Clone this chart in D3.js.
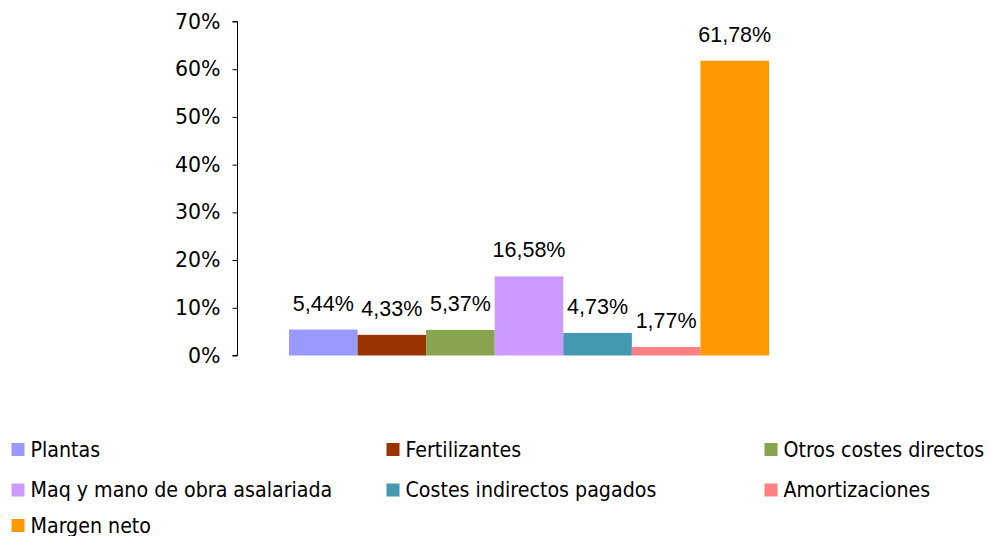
<!DOCTYPE html>
<html>
<head>
<meta charset="utf-8">
<script src="https://cdn.jsdelivr.net/npm/d3@7"></script>
<style>
  body { margin: 0; background: #fff; }
  svg { display: block; }
</style>
</head>
<body>
<div id="chart"></div>
<script>
const categories = ["Plantas", "Fertilizantes", "Otros costes directos", "Maq y mano de obra asalariada",
                    "Costes indirectos pagados", "Amortizaciones", "Margen neto"]
const values = [5.44, 4.33, 5.37, 16.58, 4.73, 1.77, 61.78]
const colors = ["#9999ff", "#993300", "#88a44f", "#cc99ff", "#4498b0", "#ff8080", "#ff9900"]
const yTicks = [0, 10, 20, 30, 40, 50, 60, 70]

const width = 990, height = 536
const svg = d3.select("#chart").append("svg")
    .attr("width", width).attr("height", height)

const plot = {left: 237.5, right: 821, top: 21.5, bottom: 355.5}

const y = d3.scaleLinear().domain([0, 70]).range([plot.bottom, plot.top])
const x = d3.scaleBand().domain(categories)
    .range([289, 769]).padding(0)

// y axis
const yAxis = d3.axisLeft(y).tickValues(yTicks).tickSize(5).tickPadding(12)
    .tickFormat(d => d + "%")
const gy = svg.append("g").attr("transform", `translate(${plot.left},0)`).call(yAxis)
gy.select(".domain").attr("stroke", "#000").attr("d", `M-5,${plot.top}H0V${plot.bottom}H-5`)
gy.selectAll(".tick line").attr("stroke", "#000")
gy.selectAll(".tick text")
    .attr("font-family", "DejaVu Sans, Verdana, sans-serif")
    .attr("font-size", 20.5).attr("fill", "#000")

// bars
svg.selectAll(".bar").data(categories).enter().append("rect")
    .attr("class", "bar")
    .attr("x", d => x(d))
    .attr("width", x.bandwidth())
    .attr("y", (d, i) => y(values[i]))
    .attr("height", (d, i) => y(0) - y(values[i]))
    .attr("fill", (d, i) => colors[i])

// value labels
svg.selectAll(".lbl").data(categories).enter().append("text")
    .attr("class", "lbl")
    .attr("x", d => x(d) + x.bandwidth() / 2)
    .attr("y", (d, i) => y(values[i]) - 19)
    .attr("text-anchor", "middle")
    .attr("font-family", "Liberation Sans, Arial, sans-serif")
    .attr("font-size", 21.5)
    .text((d, i) => values[i].toFixed(2).replace(".", ",") + "%")

// legend
const legCols = [11.5, 386.5, 764.5]
const legRows = [449.5, 490, 525.5]
const leg = svg.selectAll(".leg").data(categories).enter().append("g")
    .attr("class", "leg")
    .attr("transform", (d, i) => `translate(${legCols[i % 3]},${legRows[Math.floor(i / 3)]})`)
leg.append("rect").attr("x", 0).attr("y", -6.5).attr("width", 13).attr("height", 13)
    .attr("fill", (d, i) => colors[i])
leg.append("text").attr("x", 19).attr("y", 7)
    .attr("font-family", "DejaVu Sans Condensed, DejaVu Sans, sans-serif")
    .attr("font-size", 21.2)
    .text(d => d)
</script>
</body>
</html>
